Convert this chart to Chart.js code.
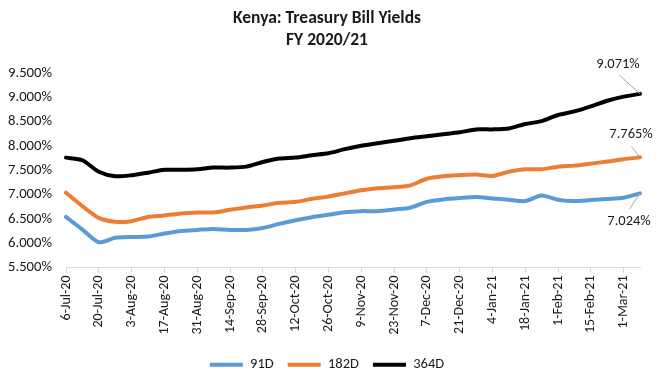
<!DOCTYPE html>
<html>
<head>
<meta charset="utf-8">
<script src="https://cdn.jsdelivr.net/npm/chart.js@4"></script>
<style>
html,body{margin:0;padding:0;background:#fff;}
#wrap{width:657px;height:381px;position:relative;}
</style>
</head>
<body>
<div id="wrap"><canvas id="c" width="657" height="381"></canvas></div>
<script>
const categories = ["6-Jul-20","13-Jul-20","20-Jul-20","27-Jul-20","3-Aug-20","10-Aug-20","17-Aug-20","24-Aug-20","31-Aug-20","7-Sep-20","14-Sep-20","21-Sep-20","28-Sep-20","5-Oct-20","12-Oct-20","19-Oct-20","26-Oct-20","2-Nov-20","9-Nov-20","16-Nov-20","23-Nov-20","30-Nov-20","7-Dec-20","14-Dec-20","21-Dec-20","28-Dec-20","4-Jan-21","11-Jan-21","18-Jan-21","25-Jan-21","1-Feb-21","8-Feb-21","15-Feb-21","22-Feb-21","1-Mar-21","8-Mar-21"];
const yield91 = [6.54,6.28,6.02,6.11,6.128,6.136,6.198,6.252,6.273,6.293,6.273,6.273,6.314,6.397,6.473,6.535,6.583,6.638,6.659,6.659,6.694,6.73,6.85,6.90,6.928,6.948,6.92,6.893,6.866,6.983,6.893,6.866,6.886,6.907,6.934,7.024];
const yield182 = [7.038,6.762,6.52,6.44,6.453,6.54,6.57,6.61,6.632,6.632,6.686,6.735,6.776,6.83,6.85,6.913,6.958,7.025,7.087,7.128,7.149,7.19,7.326,7.376,7.397,7.41,7.382,7.47,7.52,7.52,7.574,7.595,7.636,7.678,7.727,7.765];
const yield364 = [7.76,7.706,7.47,7.376,7.397,7.45,7.51,7.51,7.52,7.554,7.554,7.574,7.67,7.74,7.76,7.81,7.85,7.934,8.002,8.057,8.105,8.16,8.20,8.24,8.28,8.34,8.34,8.36,8.45,8.51,8.636,8.71,8.814,8.93,9.014,9.071];
const seriesNames = ["91D","182D","364D"];
const titleLines = ["Kenya: Treasury Bill Yields","FY 2020/21"];

const FONT = "Carlito, Calibri, Lato, sans-serif";
const TEXT = "#1a1a1a";

const lastLabelPlugin = {
  id: 'lastLabel',
  afterDatasetsDraw(chart) {
    const ctx = chart.ctx;
    const cfg = [
      {ds: 2, tx: -22, ty: -29, lx: -21, ly: -19},
      {ds: 1, tx: -9, ty: -23, lx: -8.5, ly: -11},
      {ds: 0, tx: -11, ty: 28, lx: -10.5, ly: 15.5}
    ];
    ctx.save();
    cfg.forEach(c => {
      const meta = chart.getDatasetMeta(c.ds);
      const data = chart.data.datasets[c.ds].data;
      const idx = data.length - 1;
      const pt = meta.data[idx];
      ctx.strokeStyle = '#a6a6a6';
      ctx.lineWidth = 1;
      ctx.beginPath();
      ctx.moveTo(pt.x + c.lx, pt.y + c.ly);
      ctx.lineTo(pt.x, pt.y);
      ctx.stroke();
      ctx.fillStyle = TEXT;
      ctx.font = "14.5px " + FONT;
      ctx.textAlign = 'center';
      ctx.textBaseline = 'middle';
      ctx.fillText(data[idx].toFixed(3) + '%', pt.x + c.tx, pt.y + c.ty);
    });
    ctx.restore();
  }
};

new Chart(document.getElementById('c'), {
  type: 'line',
  data: {
    labels: categories,
    datasets: [
      {label: seriesNames[0], data: yield91, borderColor: '#5B9BD5', backgroundColor: '#5B9BD5'},
      {label: seriesNames[1], data: yield182, borderColor: '#ED7D31', backgroundColor: '#ED7D31'},
      {label: seriesNames[2], data: yield364, borderColor: '#000000', backgroundColor: '#000000'}
    ].map(d => Object.assign(d, {borderWidth: 4, pointRadius: 0, pointHoverRadius: 0, tension: 0.25, borderCapStyle: 'round', borderJoinStyle: 'round', fill: false}))
  },
  options: {
    responsive: false,
    animation: false,
    devicePixelRatio: 1,
    layout: {padding: {left: 0, right: 3, top: 0, bottom: -1}},
    plugins: {
      title: {
        display: true,
        text: titleLines,
        color: TEXT,
        font: {family: FONT, size: 17.5, weight: 'bold', lineHeight: 1.257},
        padding: {top: 8, bottom: 21}
      },
      legend: {
        display: true,
        position: 'bottom',
        labels: {
          usePointStyle: true,
          pointStyle: 'line',
          pointStyleWidth: 33,
          boxHeight: 4,
          padding: 14,
          color: TEXT,
          font: {family: FONT, size: 14.5}
        }
      },
      tooltip: {enabled: false}
    },
    scales: {
      x: {
        type: 'category',
        offset: false,
        afterFit(scale) { scale.height = 76; scale.paddingRight = 17; },
        grid: {
          display: true,
          drawOnChartArea: false,
          drawTicks: true,
          tickLength: 5,
          color: (ctx) => (ctx.index % 2 === 0 ? '#d9d9d9' : 'rgba(0,0,0,0)')
        },
        border: {display: true, color: '#d9d9d9', width: 1},
        ticks: {
          autoSkip: false,
          maxRotation: 90,
          minRotation: 90,
          padding: 3,
          color: TEXT,
          font: {family: FONT, size: 14},
          callback: function(v, i) { return i % 2 === 0 ? this.getLabelForValue(v) : ''; }
        }
      },
      y: {
        min: 5.5,
        max: 9.5,
        afterFit(scale) { scale.width = 66; },
        grid: {display: false, drawTicks: false},
        border: {display: false},
        ticks: {
          stepSize: 0.5,
          padding: 14,
          color: TEXT,
          font: {family: FONT, size: 14.7},
          callback: (v) => v.toFixed(3) + '%'
        }
      }
    }
  },
  plugins: [lastLabelPlugin]
});
</script>
</body>
</html>
